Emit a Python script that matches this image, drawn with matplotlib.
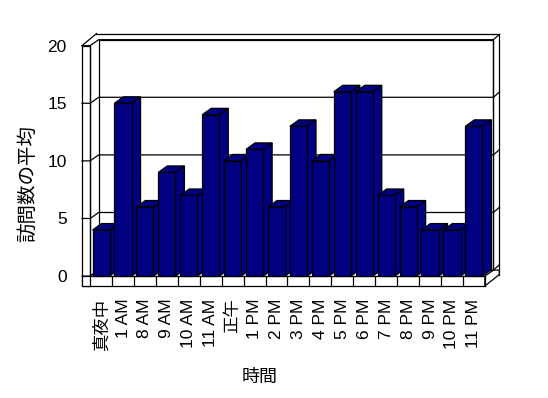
import numpy as np
import matplotlib
matplotlib.use("Agg")
from matplotlib import pyplot as plt
from matplotlib.patches import Polygon, Rectangle

hours = ["真夜中", "1 AM", "8 AM", "9 AM", "10 AM", "11 AM", "正午",
         "1 PM", "2 PM", "3 PM", "4 PM", "5 PM", "6 PM", "7 PM",
         "8 PM", "9 PM", "10 PM", "11 PM"]
visits = [4, 15, 6, 9, 7, 14, 10, 11, 6, 13, 10, 16, 16, 7, 6, 4, 4, 13]
yticks = [0, 5, 10, 15, 20]

plt.rcParams['font.family'] = ['Liberation Sans', 'Noto Sans CJK JP', 'DejaVu Sans']

W, H = 548, 398
fig = plt.figure(figsize=(W / 100, H / 100), dpi=100)
fig.patch.set_facecolor('white')

# axes box in pixels (left, right, top, bottom)
L, R, T, B = 82, 500, 33, 286
ax = fig.add_axes([L / W, 1 - B / H, (R - L) / W, (B - T) / H])

n = len(hours)
x = np.arange(n)
x_lo, x_hi = -0.5, n - 0.5
ymax = yticks[-1]

# depth settings (data units)
dX, dY = 0.39, 0.52     # inner wall depth
sX, sY = 0.37, 0.86     # slab thickness of left wall / floor
oX, oY = 0.66, 1.05     # outer back offset
bX, bY = 0.41, 0.56     # bar depth
bw = 0.78

ax.set_xlim(x_lo - sX, x_hi + oX + 0.03)
ax.set_ylim(-sY, ymax + oY + 0.05)
for s in ax.spines.values():
    s.set_visible(False)

lw = 0.9
kw = dict(color='black', lw=lw, clip_on=False, zorder=2)
pk = dict(fc='white', ec='black', lw=lw, zorder=1, clip_on=False)

# back wall
ax.add_patch(Rectangle((x_lo + dX, dY), x_hi - x_lo, ymax, **pk))
# left wall slab front face
ax.add_patch(Rectangle((x_lo - sX, -sY), sX, ymax + sY, **pk))
# floor slab front face
ax.add_patch(Rectangle((x_lo - sX, -sY), x_hi - x_lo + sX, sY, **pk))
# floor slab right side
ax.add_patch(Polygon([(x_hi, -sY), (x_hi + oX, -sY + oY * 0.95), (x_hi + oX, dY),
                      (x_hi + dX, dY), (x_hi, 0)], closed=True, **pk))
# category dividers on floor
for b in np.arange(x_lo, x_hi + 0.5):
    ax.plot([b, b], [-sY, 0], **kw)
# outer top / right edges
ax.plot([x_lo - sX, x_lo - sX + oX], [ymax, ymax + oY], **kw)
ax.plot([x_lo - sX + oX, x_hi + oX], [ymax + oY, ymax + oY], **kw)
ax.plot([x_hi + oX, x_hi + oX], [ymax + oY, -sY + oY * 0.95], **kw)
ax.plot([x_hi + dX, x_hi + dX], [dY, ymax + dY], **kw)
ax.plot([x_lo, x_lo], [0, ymax], **kw)
ax.plot([x_lo, x_lo + dX], [0, dY], **kw)

# gridlines through slab, left wall and back wall
for v in yticks:
    ax.plot([x_lo - sX, x_lo, x_lo + dX, x_hi + dX, x_hi + oX],
            [v, v, v + dY, v + dY, v + dY + 0.45], **kw)

# bars
navy = '#000080'
bars = ax.bar(x, visits, width=bw, color=navy, edgecolor='black', linewidth=lw)
for i, (b, v) in enumerate(zip(bars, visits)):
    xl, xr = i - bw / 2, i + bw / 2
    side = Polygon([(xr, 0), (xr + bX, bY), (xr + bX, v + bY), (xr, v)], closed=True,
                   fc=navy, ec='black', lw=lw, zorder=3 + 2 * i)
    top = Polygon([(xl, v), (xr, v), (xr + bX, v + bY), (xl + bX, v + bY)], closed=True,
                  fc=navy, ec='black', lw=lw, zorder=3 + 2 * i)
    ax.add_patch(side)
    ax.add_patch(top)
    b.set_zorder(4 + 2 * i)

ax.set_xticks(x, hours, rotation=90, fontsize=12.5)
ax.set_yticks(yticks, [str(t) for t in yticks], fontsize=12.5)
ax.tick_params(axis='x', length=0, pad=9)
ax.tick_params(axis='y', length=0, pad=11)

fig.text(28 / W, 1 - 183 / H, '訪問数の平均', rotation=90, ha='center', va='center', fontsize=14)
fig.text(260 / W, 1 - 377 / H, '時間', ha='center', va='center', fontsize=13)

fig.savefig('out.png', dpi=100)
